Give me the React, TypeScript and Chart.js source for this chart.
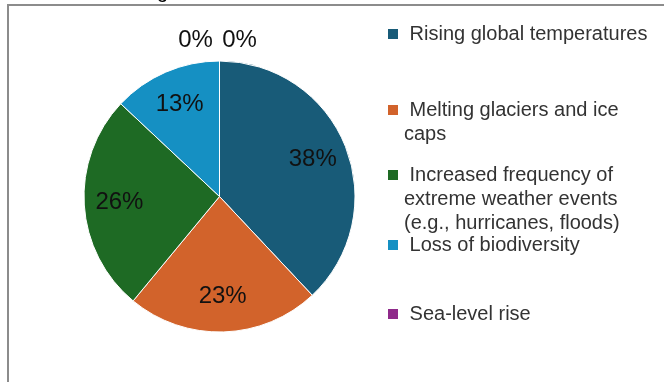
import React, { useEffect, useRef } from "react";
import { Chart, registerables } from "chart.js";

Chart.register(...registerables);

const categories = [
  "Rising global temperatures",
  "Melting glaciers and ice caps",
  "Increased frequency of extreme weather events (e.g., hurricanes, floods)",
  "Loss of biodiversity",
  "Sea-level rise",
  "",
];
const shares = [38, 23, 26, 13, 0, 0];
const sliceColors = ["#185b78", "#d2632b", "#1e6a24", "#1590c3", "#8f2a8a", "#7f7f7f"];
const titleFragment = "g";

const FONT = "'Liberation Sans', Arial, sans-serif";
const LEGEND_ROWS_Y = [34, 110, 175, 245, 314];

function wrapText(ctx: CanvasRenderingContext2D, text: string, maxWidth: number): string[] {
  const words = text.split(" ");
  const lines: string[] = [];
  let cur = " ";
  for (const w of words) {
    const test = cur.trim().length === 0 ? cur + w : cur + " " + w;
    if (ctx.measureText(test).width > maxWidth && cur.trim().length > 0) {
      lines.push(cur);
      cur = w;
    } else {
      cur = test;
    }
  }
  lines.push(cur);
  return lines;
}

const decorPlugin = {
  id: "decor",
  beforeDraw(chart: any) {
    const ctx = chart.ctx as CanvasRenderingContext2D;
    ctx.save();
    ctx.fillStyle = "#ffffff";
    ctx.fillRect(0, 0, chart.width, chart.height);
    ctx.fillStyle = "#8c8c8c";
    ctx.fillRect(7, 4, chart.width - 7, 2);
    ctx.fillRect(7, 4, 2, chart.height - 4);
    ctx.fillStyle = "#000000";
    ctx.font = `20px ${FONT}`;
    ctx.textBaseline = "alphabetic";
    ctx.textAlign = "left";
    ctx.fillText(titleFragment, 157, -2);
    ctx.restore();
  },
  afterDatasetsDraw(chart: any) {
    const ctx = chart.ctx as CanvasRenderingContext2D;
    const meta = chart.getDatasetMeta(0);
    const data = chart.data.datasets[0].data as number[];
    const total = data.reduce((a, b) => a + b, 0);
    const zeros = data.map((v, i) => (v === 0 ? i : -1)).filter((i) => i >= 0);

    ctx.save();
    ctx.font = `24px ${FONT}`;
    ctx.textAlign = "center";
    ctx.textBaseline = "middle";
    ctx.fillStyle = "#111111";
    meta.data.forEach((arc: any, i: number) => {
      const p = arc.getProps(["x", "y", "startAngle", "endAngle", "outerRadius"], true);
      const v = data[i];
      const label = Math.round((v / total) * 100) + "%";
      let tx: number, ty: number;
      if (v > 0) {
        const mid = (p.startAngle + p.endAngle) / 2;
        const r = p.outerRadius * 0.74;
        tx = p.x + Math.cos(mid) * r;
        ty = p.y + Math.sin(mid) * r;
      } else {
        const k = zeros.indexOf(i);
        tx = p.x + (k - (zeros.length - 1) / 2) * 44 - 2;
        ty = p.y - p.outerRadius - 21;
      }
      ctx.fillText(label, tx, ty);
    });

    // legend
    ctx.font = `20px ${FONT}`;
    ctx.textAlign = "left";
    ctx.textBaseline = "middle";
    let row = 0;
    categories.forEach((name, i) => {
      if (!name) return;
      const y0 = LEGEND_ROWS_Y[row++];
      ctx.fillStyle = sliceColors[i];
      ctx.fillRect(388, y0 - 5, 10, 10);
      ctx.fillStyle = "#333333";
      const lines = wrapText(ctx, name, 250);
      lines.forEach((ln, j) => {
        ctx.fillText(ln, 404, y0 + j * 24);
      });
    });
    ctx.restore();
  },
};

export default function App() {
  const ref = useRef<HTMLCanvasElement | null>(null);
  useEffect(() => {
    if (!ref.current) return;
    const chart = new Chart(ref.current, {
      type: "pie",
      data: {
        labels: categories,
        datasets: [
          {
            data: shares,
            backgroundColor: sliceColors,
            borderColor: "#ffffff",
            borderWidth: 1,
          },
        ],
      },
      options: {
        responsive: false,
        animation: false,
        devicePixelRatio: 1,
        layout: { padding: { left: 83.5, right: 308.5, top: 60.5, bottom: 49.5 } },
        plugins: {
          legend: { display: false },
          tooltip: { enabled: false },
        },
      },
      plugins: [decorPlugin],
    });
    return () => chart.destroy();
  }, []);
  return (
    <div style={{ position: "fixed", left: 0, top: 0, width: 664, height: 382, background: "#fff" }}>
      <canvas ref={ref} width={664} height={382} style={{ display: "block" }} />
    </div>
  );
}
